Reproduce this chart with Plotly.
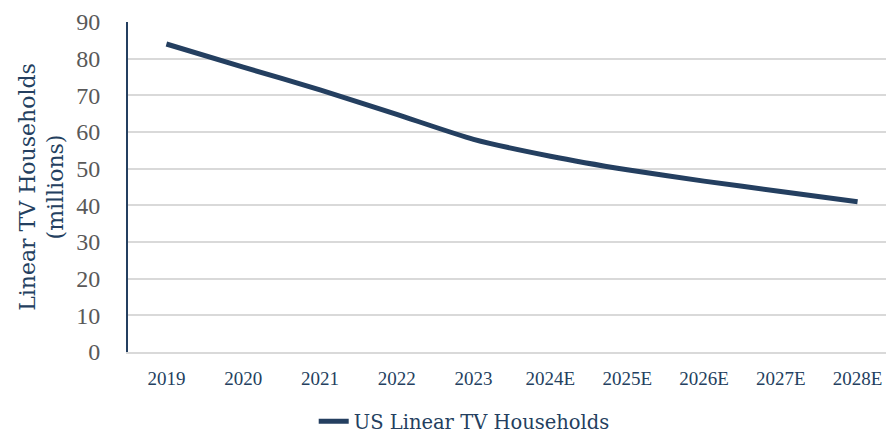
import plotly.graph_objects as go

years = ["2019", "2020", "2021", "2022", "2023", "2024E", "2025E", "2026E", "2027E", "2028E"]
households = [84.0, 77.7, 71.5, 64.8, 58.0, 53.4, 49.7, 46.6, 43.8, 41.0]
series_name = "US Linear TV Households"
y_ticks = [0, 10, 20, 30, 40, 50, 60, 70, 80, 90]

navy = "#243F60"
font_family = "Liberation Serif, DejaVu Serif, serif"
title_family = "DejaVu Serif, serif"

fig = go.Figure()
fig.add_trace(go.Scatter(
    x=list(range(len(years))), y=households, mode="lines", name=series_name,
    line=dict(color=navy, width=5, shape="spline", smoothing=0.6),
    showlegend=True,
))

fig.update_layout(
    width=886, height=435,
    margin=dict(l=128, r=0, t=22, b=83, autoexpand=False),
    paper_bgcolor="white", plot_bgcolor="white",
    font=dict(family=font_family, color=navy),
    showlegend=True,
    legend=dict(orientation="h", xref="paper", x=0.245, xanchor="left",
                yref="paper", y=-0.27, yanchor="bottom",
                font=dict(size=19.5, color=navy, family=title_family),
                bgcolor="rgba(0,0,0,0)"),
    xaxis=dict(
        automargin=False,
        tickmode="array", tickvals=list(range(len(years))), ticktext=years,
        range=[-0.5, 9.37], showgrid=False, zeroline=False,
        showline=True, linecolor="#D9D9D9", linewidth=1.5,
        ticks="outside", ticklen=8, tickcolor="rgba(0,0,0,0)",
        tickfont=dict(size=19, color=navy, family=font_family),
    ),
    yaxis=dict(
        automargin=False,
        range=[0, 90], tickvals=y_ticks, showgrid=True, gridcolor="#D9D9D9", gridwidth=1.5,
        zeroline=False, showline=True, linecolor=navy, linewidth=2,
        ticks="outside", ticklen=21, tickcolor="rgba(0,0,0,0)",
        tickfont=dict(size=24, color="#595959", family=font_family),
        title=dict(text="Linear TV Households<br>(millions)", standoff=6,
                   font=dict(size=22, color=navy, family=title_family)),
    ),
)

fig.write_html("out.html", config={"displayModeBar": False},
               post_script="document.body.style.margin='0';document.body.style.overflow='hidden';")
